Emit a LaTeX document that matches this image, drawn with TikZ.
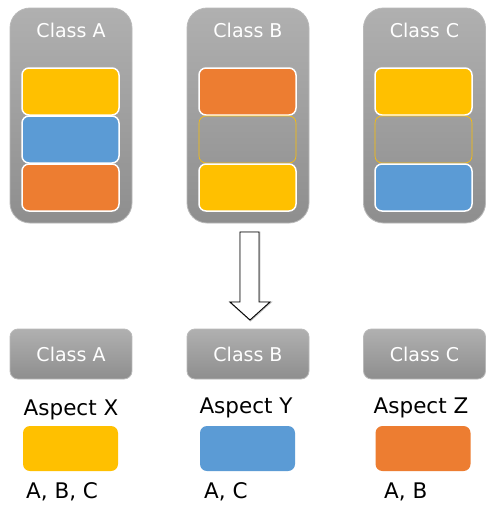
\documentclass[tikz,border=0pt]{standalone}
\usepackage{fontspec}
\setmainfont{DejaVu Sans}
\definecolor{cyel}{HTML}{FFC000}
\definecolor{cblu}{HTML}{5B9BD5}
\definecolor{cora}{HTML}{ED7D31}
\definecolor{gtop}{HTML}{B0B0B0}
\definecolor{gbot}{HTML}{8E8E8E}
\begin{document}
\begin{tikzpicture}[x=1pt,y=-1pt,
  panel/.style={rectangle,rounded corners=20pt,minimum width=122pt,minimum height=215pt,
    top color=gtop,bottom color=gbot,draw=gray!55,line width=0.8pt,inner sep=0pt},
  classbox/.style={rectangle,rounded corners=8pt,minimum width=122pt,minimum height=50pt,
    top color=gtop,bottom color=gbot,draw=gray!55,line width=0.8pt,inner sep=0pt,
    text=white,font=\fontsize{19}{22}\selectfont},
  title/.style={text=white,font=\fontsize{19}{22}\selectfont,inner sep=0pt},
  slot/.style={rectangle,rounded corners=7pt,minimum width=97pt,minimum height=47pt,
    draw=white,line width=1.5pt,inner sep=0pt},
  emptyslot/.style={rectangle,rounded corners=7pt,minimum width=97pt,minimum height=47pt,
    draw=cyel,line width=0.6pt,inner sep=0pt},
  aspect/.style={rectangle,rounded corners=7pt,minimum width=95pt,minimum height=45pt,inner sep=0pt},
  lbl/.style={text=black,font=\fontsize{21.5}{24}\selectfont,inner sep=0pt}]
\useasboundingbox (0,0) rectangle (497,522);
\fill[white] (0,0) rectangle (497,522);
% top panels
\node[panel] (pa) at (71,115.5) {};
\node[panel] (pb) at (248,115.5) {};
\node[panel] (pc) at (424.5,115.5) {};
\node[title] (ta) at (71,30) {Class A};
\node[title] (tb) at (248,30) {Class B};
\node[title] (tc) at (424.5,30) {Class C};
% slots A
\node[slot,fill=cyel] (a1) at (70.5,91.5) {};
\node[slot,fill=cblu] (a2) at (70.5,139.5) {};
\node[slot,fill=cora] (a3) at (70.5,187.5) {};
% slots B
\node[slot,fill=cora] (b1) at (247.5,91.5) {};
\node[emptyslot] (b2) at (247.5,139.5) {};
\node[slot,fill=cyel] (b3) at (247.5,187.5) {};
% slots C
\node[slot,fill=cyel] (c1) at (423.5,91.5) {};
\node[emptyslot] (c2) at (423.5,139.5) {};
\node[slot,fill=cblu] (c3) at (423.5,187.5) {};
% block arrow
\draw[gray!50,line width=1.6pt,line join=miter]
  (240.5,232.5) -- (259.5,232.5) -- (259.5,302.5) -- (270.5,302.5) -- (250.5,320.5)
  -- (230.5,302.5) -- (240.5,302.5) -- cycle;
\draw[black,fill=white,line width=0.9pt,line join=miter]
  (240,232) -- (259,232) -- (259,302) -- (270,302) -- (250,320)
  -- (230,302) -- (240,302) -- cycle;
% bottom class boxes
\node[classbox] (ka) at (71,354) {Class A};
\node[classbox] (kb) at (248,354) {Class B};
\node[classbox] (kc) at (424.5,354) {Class C};
% aspects
\node[lbl] (ax) at (71,410) {Aspect X};
\node[lbl] (ay) at (246,408) {Aspect Y};
\node[lbl] (az) at (421,408) {Aspect Z};
\node[aspect,fill=cyel] (xa) at (70.5,448.5) {};
\node[aspect,fill=cblu] (ya) at (247.5,448.5) {};
\node[aspect,fill=cora] (za) at (423,448.5) {};
\node[lbl,anchor=west] (xl) at (26,492) {A, B, C};
\node[lbl,anchor=west] (yl) at (204,492) {A, C};
\node[lbl,anchor=west] (zl) at (384,492) {A, B};
\end{tikzpicture}
\end{document}
